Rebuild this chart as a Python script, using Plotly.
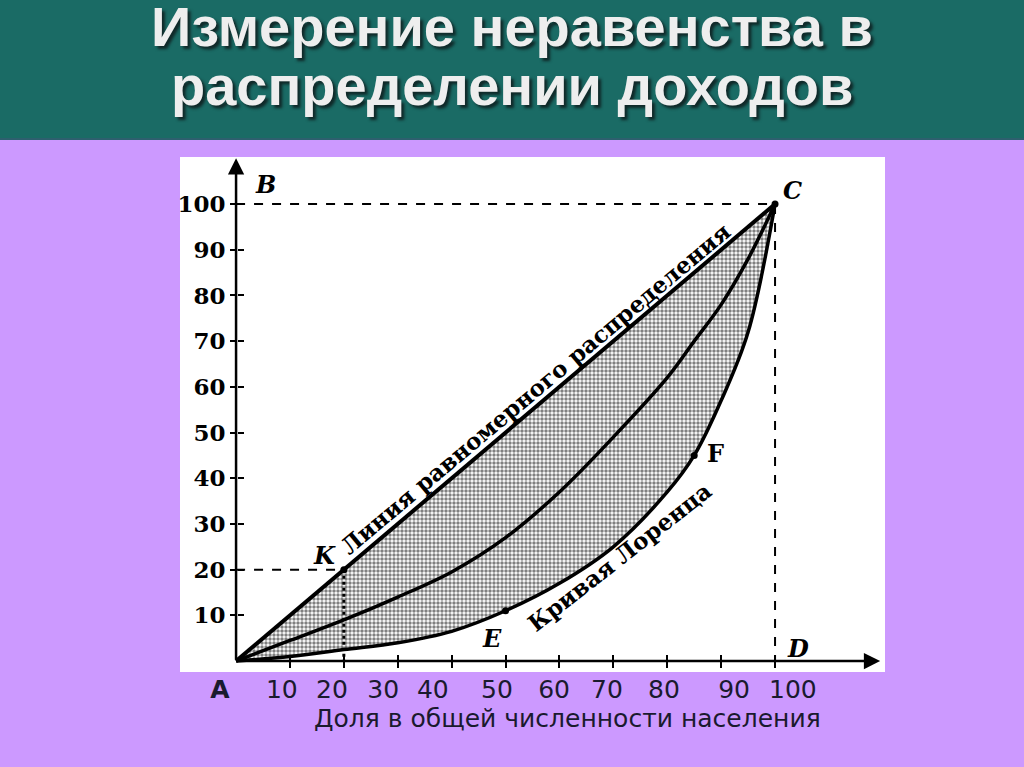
import plotly.graph_objects as go

# Кривая Лоренца: доля населения (%) -> доля доходов (%)
pop = [0, 10, 20, 30, 40, 50, 60, 70, 80, 85, 90, 95, 100]
income_mid = [0, 4.5, 9, 14, 19.5, 27, 37, 49, 62, 70, 78, 88, 100]
income_lorenz = [0, 1, 2.5, 4, 6.5, 11, 17, 25, 37, 45, 57, 72, 100]

# точки на графике
K = (20, 20)
C = (100, 100)
E = (50, 11)
F = (85, 45)

y_ticks = [10, 20, 30, 40, 50, 60, 70, 80, 90, 100]
x_ticks = [10, 20, 30, 40, 50, 60, 70, 80, 90, 100]
# подписи под осью на слайде сдвинуты относительно делений
x_label_pos = [-3.0, 8.5, 17.8, 27.3, 36.5, 48.4, 59.0, 68.8, 79.4, 92.4, 103.3]
x_label_text = ['<b>A</b>', '10', '20', '30', '40', '50', '60', '70', '80', '90', '100']

W, H = 1024, 767
L, R, T, B = 180, 139, 157, 95
pw, ph = W - L - R, H - T - B


def px(xp):
    return (xp - L) / pw


def py(yp):
    return (H - B - yp) / ph


serif = 'DejaVu Serif'
fig = go.Figure()

fig.add_trace(go.Scatter(x=pop, y=income_lorenz, mode='lines', line_shape='spline',
                         line=dict(color='black', width=3.5)))
fig.add_trace(go.Scatter(x=pop, y=pop, mode='lines', fill='tonexty',
                         fillcolor='rgba(0,0,0,0)',
                         fillpattern=dict(shape='.', fgcolor='black', bgcolor='white',
                                          size=4, solidity=0.6),
                         line=dict(color='black', width=4)))
fig.add_trace(go.Scatter(x=pop, y=income_mid, mode='lines', line_shape='spline',
                         line=dict(color='black', width=3.5)))

# пунктирные линии
fig.add_trace(go.Scatter(x=[0, C[0], C[0]], y=[C[1], C[1], 0], mode='lines',
                         line=dict(color='black', width=2, dash='dash')))
fig.add_trace(go.Scatter(x=[0, K[0]], y=[K[1], K[1]], mode='lines',
                         line=dict(color='black', width=2, dash='dash')))
fig.add_trace(go.Scatter(x=[K[0], K[0]], y=[K[1], 0], mode='lines',
                         line=dict(color='black', width=3, dash='dot')))
fig.add_trace(go.Scatter(x=[K[0], E[0], F[0], C[0]], y=[K[1], E[1], F[1], C[1]],
                         mode='markers', marker=dict(color='black', size=7)))

# невидимые точки, чтобы дополнительные оси были нарисованы
fig.add_trace(go.Scatter(x=x_label_pos, y=[0] * len(x_label_pos), xaxis='x2', yaxis='y',
                         mode='markers', marker=dict(opacity=0), hoverinfo='skip'))
fig.add_trace(go.Scatter(x=x_ticks, y=[0] * len(x_ticks), xaxis='x3', yaxis='y',
                         mode='markers', marker=dict(opacity=0), hoverinfo='skip'))
fig.add_trace(go.Scatter(x=[0] * len(y_ticks), y=y_ticks, xaxis='x', yaxis='y2',
                         mode='markers', marker=dict(opacity=0), hoverinfo='skip'))

# оси со стрелками
fig.add_annotation(x=119.5, y=0, ax=0, ay=0, xref='x', yref='y', axref='x', ayref='y',
                   text='', showarrow=True, arrowhead=2, arrowsize=1.3, arrowwidth=2.5,
                   arrowcolor='black')
fig.add_annotation(x=0, y=110, ax=0, ay=0, xref='x', yref='y', axref='x', ayref='y',
                   text='', showarrow=True, arrowhead=2, arrowsize=1.3, arrowwidth=2.5,
                   arrowcolor='black')

# буквы
letter_font = dict(family=serif, size=24, color='black', style='italic', weight='bold')
for txt, xx, yy in [('B', 5.4, 104.2), ('C', 103.3, 103), ('D', 104.3, 2.8),
                    ('K', 16.5, 23.2), ('E', 47.5, 5)]:
    fig.add_annotation(x=xx, y=yy, text=txt, showarrow=False, font=letter_font)
fig.add_annotation(x=88.9, y=45.5, text='F', showarrow=False,
                   font=dict(family=serif, size=24, color='black', weight='bold'))

fig.add_annotation(x=55.5, y=59.7, text='Линия равномерного распределения', textangle=-40,
                   showarrow=False, font=dict(family=serif, size=23, color='black', weight='bold'))
fig.add_annotation(x=71.2, y=22.8, text='Кривая Лоренца', textangle=-38,
                   showarrow=False, font=dict(family=serif, size=23, color='black', weight='bold'))

# подпись оси X
fig.add_annotation(xref='paper', yref='paper', x=px(567), y=py(718),
                   xanchor='center', yanchor='middle',
                   text='Доля в общей численности населения', showarrow=False,
                   font=dict(family='DejaVu Sans', size=25, color='#1a1a2e'))

# заголовок
title_font = dict(family='Liberation Sans', size=56, color='#eeeeee', weight='bold',
                  shadow='3px 3px 3px #102828')
fig.add_annotation(xref='paper', yref='paper', x=px(512), y=py(26),
                   xanchor='center', yanchor='middle', borderpad=0,
                   text='Измерение неравенства в', showarrow=False, font=title_font)
fig.add_annotation(xref='paper', yref='paper', x=px(512), y=py(86),
                   xanchor='center', yanchor='middle', borderpad=0,
                   text='распределении доходов', showarrow=False, font=title_font)

fig.add_shape(type='rect', xref='paper', yref='paper', x0=px(-5), x1=px(W + 5),
              y0=py(139), y1=py(-5), fillcolor='#1a6b65', line_width=0, layer='below')
fig.add_shape(type='line', xref='paper', yref='paper', x0=px(-5), x1=px(W + 5),
              y0=py(139), y1=py(139), line=dict(color='#2d5f6e', width=2), layer='below')

xr = [-10.4, 120.4]
yr = [-2.4, 110.3]
x_pos = py(661)
y_pos = px(237)

fig.update_layout(
    width=W, height=H,
    margin=dict(l=L, r=R, t=T, b=B),
    paper_bgcolor='#cc99ff',
    plot_bgcolor='white',
    showlegend=False,
    xaxis=dict(range=xr, anchor='free', position=x_pos, showgrid=False, zeroline=False,
               showline=False, ticks='outside', ticklen=6, tickwidth=2, tickcolor='black',
               tickvals=x_ticks, showticklabels=False, fixedrange=True),
    xaxis3=dict(range=xr, overlaying='x', anchor='free', position=x_pos, showgrid=False,
                zeroline=False, showline=False, ticks='inside', ticklen=6, tickwidth=2,
                tickcolor='black', tickvals=x_ticks, showticklabels=False),
    xaxis2=dict(range=xr, overlaying='x', anchor='free', position=0, showgrid=False,
                zeroline=False, showline=False, ticks='', tickvals=x_label_pos,
                ticktext=x_label_text, side='bottom',
                tickfont=dict(family='DejaVu Sans', size=25, color='#1a1a2e')),
    yaxis=dict(range=yr, anchor='free', position=y_pos, showgrid=False, zeroline=False,
               showline=False, ticks='outside', ticklen=7, tickwidth=2, tickcolor='black',
               tickvals=y_ticks, tickfont=dict(family=serif, size=23, color='black',
                                               weight='bold'), fixedrange=True),
    yaxis2=dict(range=yr, overlaying='y', anchor='free', position=y_pos, showgrid=False,
                zeroline=False, showline=False, ticks='inside', ticklen=6, tickwidth=2,
                tickcolor='black', tickvals=y_ticks, showticklabels=False),
)

fig.write_html('out.html', config={'displayModeBar': False},
               post_script="document.body.style.margin='0';")
